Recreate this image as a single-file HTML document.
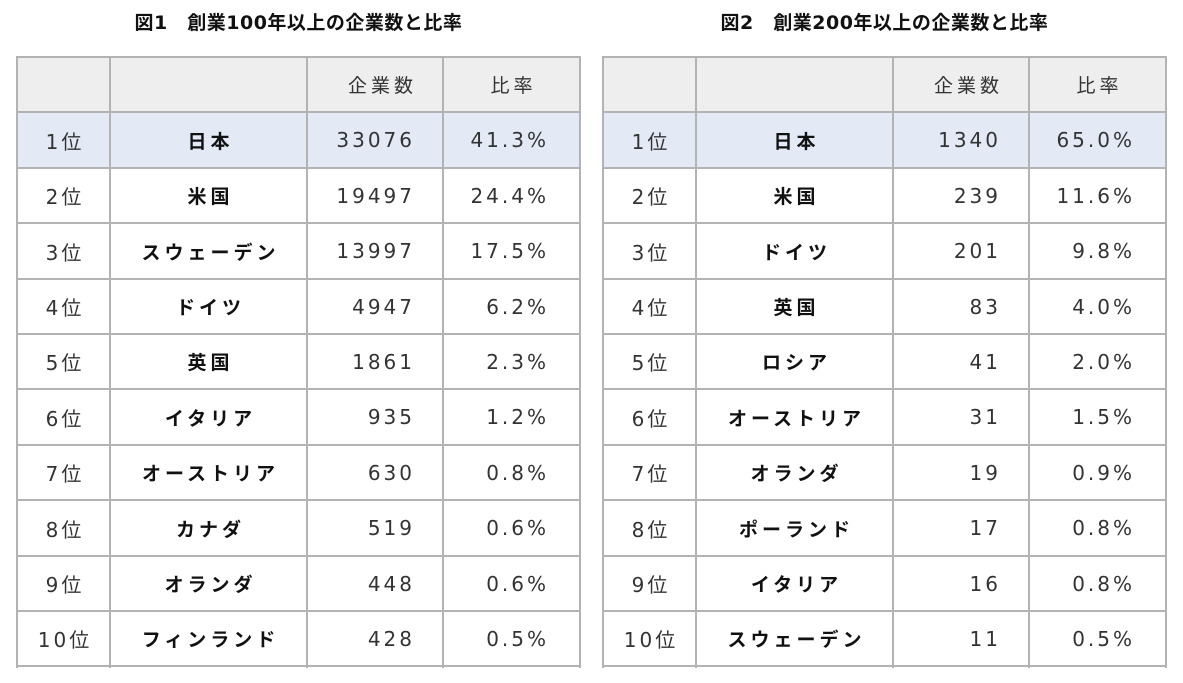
<!DOCTYPE html>
<html><head><meta charset="utf-8">
<style>
html,body{margin:0;padding:0;background:#fff;}
body{width:1183px;height:683px;position:relative;overflow:hidden;font-family:"Liberation Sans","Noto Sans CJK JP",sans-serif;}
.title{position:absolute;top:9px;height:28px;line-height:28px;width:563px;text-align:center;font-weight:bold;font-size:19px;letter-spacing:0.5px;color:#111;font-family:"DejaVu Sans","Noto Sans CJK JP",sans-serif;}
.tbl{position:absolute;top:0;width:563px;height:683px;}
.row{position:absolute;left:0;width:563px;display:grid;grid-template-columns:93px 197px 136px 137px;}
.row>div{display:flex;align-items:center;font-size:20px;letter-spacing:3px;color:#333;font-family:"DejaVu Sans","Noto Sans CJK JP",sans-serif;}
.r{justify-content:center;padding-left:3px;}
.c{justify-content:center;padding-left:4px;font-size:19px !important;letter-spacing:4px !important;font-weight:bold;color:#111 !important;font-family:"Liberation Sans","Noto Sans CJK JP",sans-serif !important;}
.n{justify-content:flex-end;padding-right:28px;}
.p{justify-content:flex-end;padding-right:31px;}
.hn{justify-content:flex-end;padding-right:26px;font-size:19px !important;letter-spacing:4px !important;font-family:"Liberation Sans","Noto Sans CJK JP",sans-serif !important;}
.hp{justify-content:center;padding-left:4px;font-size:19px !important;letter-spacing:4px !important;font-family:"Liberation Sans","Noto Sans CJK JP",sans-serif !important;}
.hl{position:absolute;left:-1px;width:565px;height:2px;background:#b3b3b3;}
.vl{position:absolute;top:56px;height:612px;width:2px;background:#b3b3b3;}
.hdr{background:#eeeeee;}
.first{background:#e3e9f5;}
</style></head><body>

<div class="title" style="left:17px;">図1　創業100年以上の企業数と比率</div>
<div class="title" style="left:603px;">図2　創業200年以上の企業数と比率</div>

<!-- LEFT TABLE -->
<div class="tbl" style="left:17px;">
  <div class="row hdr" style="top:57px;height:55px;"><div></div><div></div><div class="hn">企業数</div><div class="hp">比率</div></div>
  <div class="row first" style="top:112px;height:56px;"><div class="r">1位</div><div class="c">日本</div><div class="n">33076</div><div class="p">41.3%</div></div>
  <div class="row" style="top:168px;height:55px;"><div class="r">2位</div><div class="c">米国</div><div class="n">19497</div><div class="p">24.4%</div></div>
  <div class="row" style="top:223px;height:56px;"><div class="r">3位</div><div class="c">スウェーデン</div><div class="n">13997</div><div class="p">17.5%</div></div>
  <div class="row" style="top:279px;height:55px;"><div class="r">4位</div><div class="c">ドイツ</div><div class="n">4947</div><div class="p">6.2%</div></div>
  <div class="row" style="top:334px;height:55px;"><div class="r">5位</div><div class="c">英国</div><div class="n">1861</div><div class="p">2.3%</div></div>
  <div class="row" style="top:389px;height:56px;"><div class="r">6位</div><div class="c">イタリア</div><div class="n">935</div><div class="p">1.2%</div></div>
  <div class="row" style="top:445px;height:55px;"><div class="r">7位</div><div class="c">オーストリア</div><div class="n">630</div><div class="p">0.8%</div></div>
  <div class="row" style="top:500px;height:56px;"><div class="r">8位</div><div class="c">カナダ</div><div class="n">519</div><div class="p">0.6%</div></div>
  <div class="row" style="top:556px;height:55px;"><div class="r">9位</div><div class="c">オランダ</div><div class="n">448</div><div class="p">0.6%</div></div>
  <div class="row" style="top:611px;height:55px;"><div class="r">10位</div><div class="c">フィンランド</div><div class="n">428</div><div class="p">0.5%</div></div>

  <div class="hl" style="top:56px;"></div><div class="hl" style="top:111px;"></div><div class="hl" style="top:167px;"></div>
  <div class="hl" style="top:222px;"></div><div class="hl" style="top:278px;"></div><div class="hl" style="top:333px;"></div>
  <div class="hl" style="top:388px;"></div><div class="hl" style="top:444px;"></div><div class="hl" style="top:499px;"></div>
  <div class="hl" style="top:555px;"></div><div class="hl" style="top:610px;"></div><div class="hl" style="top:665px;"></div>
  <div class="vl" style="left:-1px;"></div><div class="vl" style="left:92px;"></div><div class="vl" style="left:289px;"></div>
  <div class="vl" style="left:425px;"></div><div class="vl" style="left:562px;"></div>
</div>

<!-- RIGHT TABLE -->
<div class="tbl" style="left:603px;">
  <div class="row hdr" style="top:57px;height:55px;"><div></div><div></div><div class="hn">企業数</div><div class="hp">比率</div></div>
  <div class="row first" style="top:112px;height:56px;"><div class="r">1位</div><div class="c">日本</div><div class="n">1340</div><div class="p">65.0%</div></div>
  <div class="row" style="top:168px;height:55px;"><div class="r">2位</div><div class="c">米国</div><div class="n">239</div><div class="p">11.6%</div></div>
  <div class="row" style="top:223px;height:56px;"><div class="r">3位</div><div class="c">ドイツ</div><div class="n">201</div><div class="p">9.8%</div></div>
  <div class="row" style="top:279px;height:55px;"><div class="r">4位</div><div class="c">英国</div><div class="n">83</div><div class="p">4.0%</div></div>
  <div class="row" style="top:334px;height:55px;"><div class="r">5位</div><div class="c">ロシア</div><div class="n">41</div><div class="p">2.0%</div></div>
  <div class="row" style="top:389px;height:56px;"><div class="r">6位</div><div class="c">オーストリア</div><div class="n">31</div><div class="p">1.5%</div></div>
  <div class="row" style="top:445px;height:55px;"><div class="r">7位</div><div class="c">オランダ</div><div class="n">19</div><div class="p">0.9%</div></div>
  <div class="row" style="top:500px;height:56px;"><div class="r">8位</div><div class="c">ポーランド</div><div class="n">17</div><div class="p">0.8%</div></div>
  <div class="row" style="top:556px;height:55px;"><div class="r">9位</div><div class="c">イタリア</div><div class="n">16</div><div class="p">0.8%</div></div>
  <div class="row" style="top:611px;height:55px;"><div class="r">10位</div><div class="c">スウェーデン</div><div class="n">11</div><div class="p">0.5%</div></div>

  <div class="hl" style="top:56px;"></div><div class="hl" style="top:111px;"></div><div class="hl" style="top:167px;"></div>
  <div class="hl" style="top:222px;"></div><div class="hl" style="top:278px;"></div><div class="hl" style="top:333px;"></div>
  <div class="hl" style="top:388px;"></div><div class="hl" style="top:444px;"></div><div class="hl" style="top:499px;"></div>
  <div class="hl" style="top:555px;"></div><div class="hl" style="top:610px;"></div><div class="hl" style="top:665px;"></div>
  <div class="vl" style="left:-1px;"></div><div class="vl" style="left:92px;"></div><div class="vl" style="left:289px;"></div>
  <div class="vl" style="left:425px;"></div><div class="vl" style="left:562px;"></div>
</div>

</body></html>
